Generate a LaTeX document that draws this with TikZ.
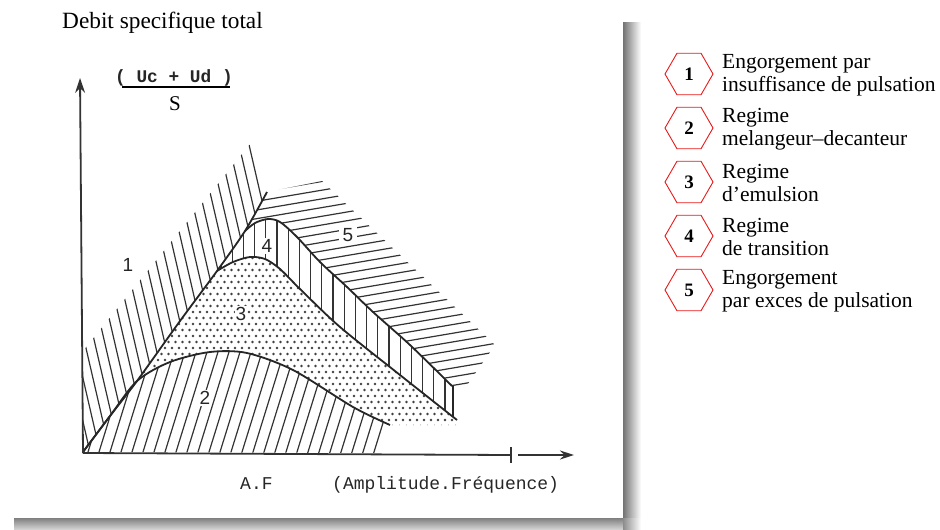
\documentclass[tikz,border=0pt]{standalone}
\usepackage{fontspec}
\setmainfont{Liberation Serif}
\setmonofont{Liberation Mono}
\setsansfont{Liberation Sans}
\usetikzlibrary{arrows.meta,shapes.geometric}
\definecolor{legred}{RGB}{232,24,24}
\def\pathA{plot[smooth] coordinates {(83,452) (110,416) (137,381) (180,321) (217,271) (245,231) (267,192)}}
\def\pathB{plot[smooth] coordinates {(83,452) (110,416) (137,381) (170,362) (210,352) (247,353) (293,370) (353,407) (390,425)}}
\def\pathC{plot[smooth] coordinates {(217,271) (233,262) (250,257) (265,259) (280,269) (300,289) (340,327) (400,375) (457,420)}}
\def\pathD{plot[smooth] coordinates {(245,231) (255,223) (268,219) (280,222) (297,237) (320,262) (347,287) (373,312) (410,345) (452,386)}}
\begin{document}
\begin{tikzpicture}[x=1pt,y=-1pt,
  hatch/.style={black!80, line width=1.2pt},
  bound/.style={black!85, line width=1.8pt},
  axisline/.style={black!80, line width=1.8pt},
  zone/.style={font=\sffamily\fontsize{19}{19}\selectfont, fill=white, inner sep=1pt, text=black!85},
  legbox/.style={regular polygon, regular polygon sides=6, minimum size=48pt, inner sep=0pt, draw=legred, line width=0.9pt, font=\bfseries\fontsize{19}{19}\selectfont},
  legtxt/.style={anchor=west, align=left, font=\fontsize{21.5}{23}\selectfont, inner sep=0pt},
  mono/.style={font=\ttfamily\fontsize{18}{18}\selectfont, inner sep=0pt, text=black!85}]
\useasboundingbox (0,0) rectangle (940,530);
\fill[white] (0,0) rectangle (940,530);
% page shadow
\shade[left color=black!55, right color=white] (623,22) rectangle (641,518);
\shade[top color=black!50, bottom color=black!15] (14,518) rectangle (623,530);
\shade[left color=black!45, right color=white] (623,518) rectangle (641,530);
\fill[white] (0,0) rectangle (623,518);

% region 1
\begin{scope}
  \clip \pathA -- (255,138) -- (83,351) -- cycle;
  \foreach \i in {0,...,30} \draw[hatch] ({60+10*\i+23.1},552) -- ({60+10*\i-138.6},-148);
\end{scope}
% region 2
\begin{scope}
  \clip \pathB -- (383,453) -- cycle;
  \foreach \i in {0,...,38} \draw[hatch] ({11*\i-31},552) -- ({11*\i+124},52);
\end{scope}
% region 3 dots
\begin{scope}
  \clip \pathA -- (267,100) -- (700,100) -- (700,470) -- (83,470) -- cycle;
  \clip \pathB -- (457,425) -- (457,100) -- (83,100) -- cycle;
  \clip \pathC -- (457,470) -- (83,470) -- (83,271) -- cycle;
  \fill[black!75] \foreach \r [evaluate=\r as \yy using {252+6*\r}, evaluate=\r as \off using {mod(\r,2)*3.5}] in {0,...,30} {
     \foreach \c [evaluate=\c as \xx using {130+7*\c+\off}] in {0,...,47} { (\xx,\yy) circle[radius=1.3] } };
\end{scope}
% region 4
\begin{scope}
  \clip (0,0) rectangle (453.5,530);
  \clip \pathA -- (267,100) -- (700,100) -- (700,470) -- (83,470) -- cycle;
  \clip \pathC -- (457,100) -- (217,100) -- cycle;
  \clip \pathD -- (452,470) -- (100,470) -- (100,231) -- cycle;
  \foreach \i in {0,...,22} \draw[hatch] ({221+11.2*\i},200) -- ({221+11.2*\i},440);
\end{scope}
% region 5
\begin{scope}
  \clip \pathA -- (267,100) -- (700,100) -- (700,470) -- (83,470) -- cycle;
  \clip \pathD -- (700,386) -- (700,100) -- (245,100) -- cycle;
  \clip (267,192) -- (322,181) -- (495,345) -- (465,388) -- (200,388) -- (200,192) -- cycle;
  \foreach \i in {0,...,29} \draw[hatch] (200,{185+8.7*\i+8.5}) -- (560,{185+8.7*\i-52.7});
\end{scope}

% boundaries
\draw[bound] \pathA;
\draw[bound] \pathB;
\draw[bound] \pathC;
\draw[bound] \pathD;
\draw[bound] (453,386) -- (453,417);

% zone labels
\node[zone] (z1) at (128,265) {1};
\node[zone] (z2) at (205,398) {2};
\node[zone] (z3) at (241,314) {3};
\node[zone] (z4) at (267,246) {4};
\node[zone, inner xsep=4pt] (z5) at (348,235) {5};

% axes
\coordinate (O) at (83,453);
\coordinate (ytop) at (80,78);
\coordinate (xend) at (511,455);
\coordinate (tk1) at (511,447);
\coordinate (tk2) at (511,463);
\coordinate (xa) at (518,455);
\coordinate (xb) at (574,455);
\draw[axisline, -{Stealth[length=15pt,width=10pt]}] (O) -- (ytop);
\draw[axisline] (O) -- (xend);
\draw[axisline, line width=1.3pt] (tk1) -- (tk2);
\draw[axisline, -{Stealth[length=14pt,width=9pt]}] (xa) -- (xb);

% texts
\node[anchor=base west, inner sep=0pt, font=\fontsize{23.3}{27}\selectfont] (title) at (62,28) {Debit specifique total};
\node[mono, anchor=base west, font=\ttfamily\bfseries\fontsize{17.8}{17.8}\selectfont] (num) at (115,82) {( Uc + Ud )};
\coordinate (fb1) at (122,87);
\coordinate (fb2) at (230,87);
\draw[black, line width=1.4pt] (fb1) -- (fb2);
\node[anchor=base, inner sep=0pt, font=\fontsize{21}{21}\selectfont] (S) at (175,110) {S};
\node[mono, anchor=base west] (af) at (240,489) {A.F};
\node[mono, anchor=base west] (ampl) at (332,489) {(Amplitude.Fréquence)};

% legend
\node[legbox] (h1) at (689,74) {1};
\node[legbox] (h2) at (689,128) {2};
\node[legbox] (h3) at (689,182) {3};
\node[legbox] (h4) at (689,236) {4};
\node[legbox] (h5) at (689,290) {5};
\node[legtxt] (t1) at (722,75) {Engorgement par\\insuffisance de pulsation};
\node[legtxt] (t2) at (722,129) {Regime\\melangeur--decanteur};
\node[legtxt] (t3) at (722,183) {Regime\\d’emulsion};
\node[legtxt] (t4) at (722,237) {Regime\\de transition};
\node[legtxt] (t5) at (722,291) {Engorgement\\par exces de pulsation};
\end{tikzpicture}
\end{document}
